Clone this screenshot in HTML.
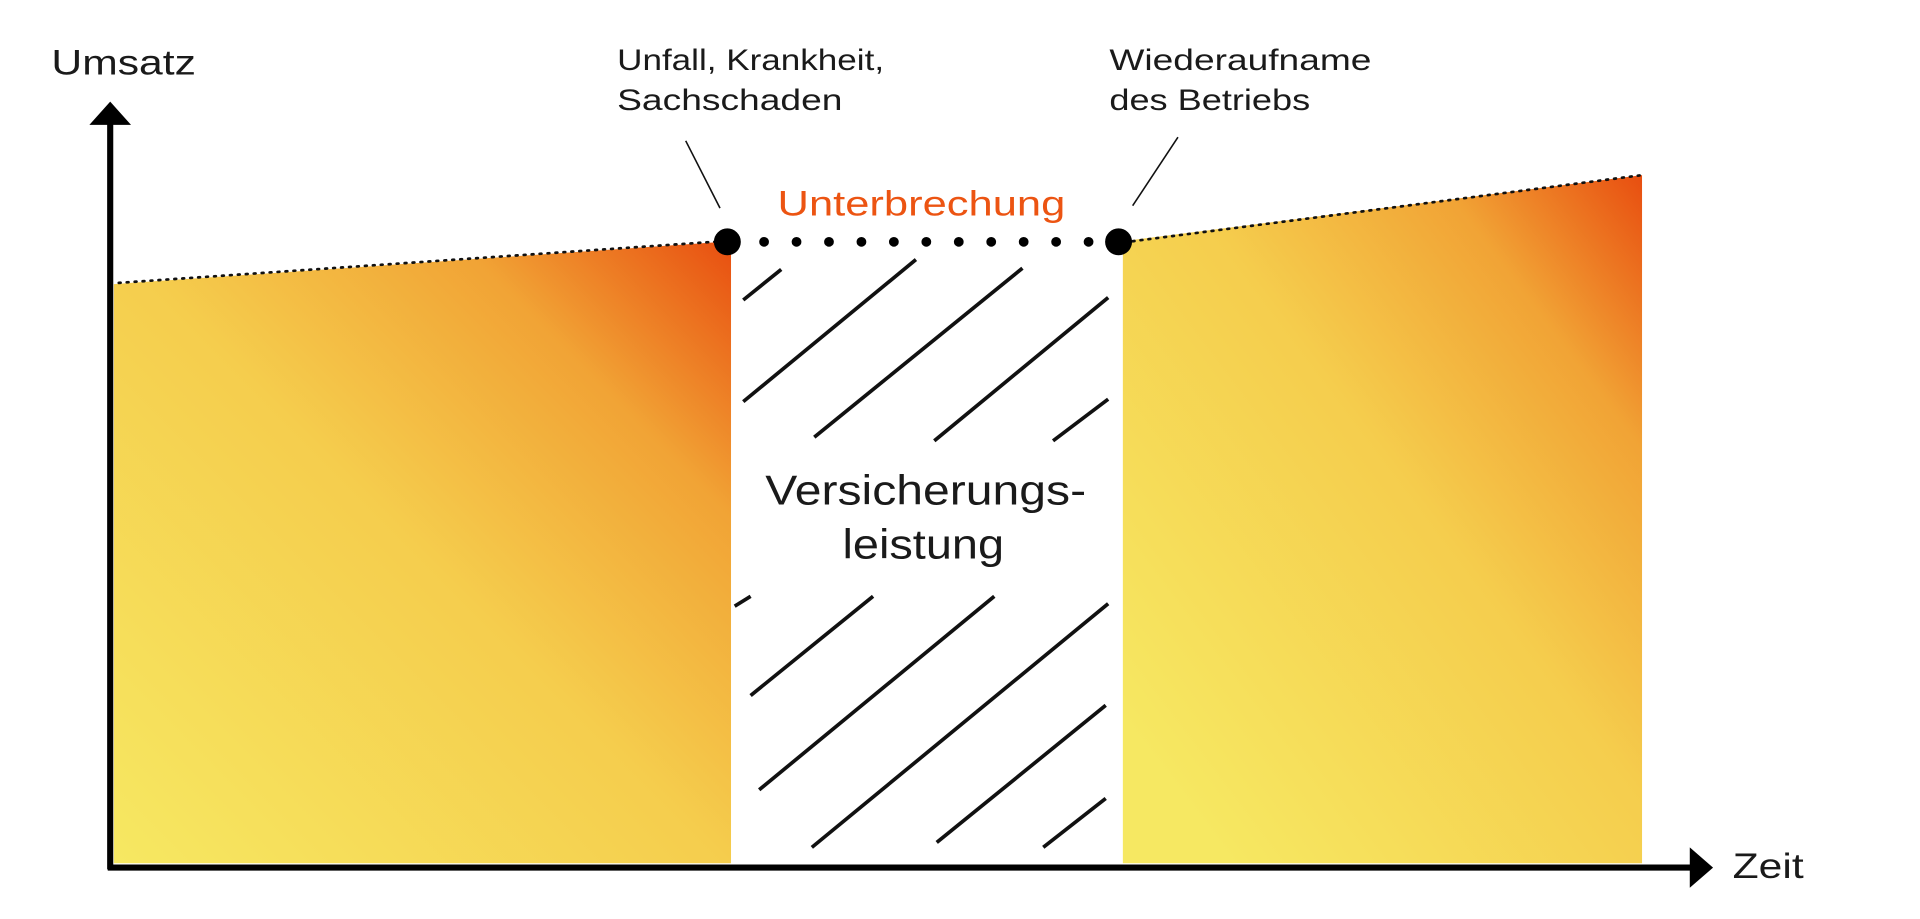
<!DOCTYPE html>
<html><head><meta charset="utf-8"><style>
html,body{margin:0;padding:0;background:#fff;overflow:hidden}
svg{display:block}
text{font-family:"Liberation Sans",sans-serif;fill:#1a1a1a}
</style></head><body>
<svg width="1920" height="919" viewBox="0 0 1568 750.5" preserveAspectRatio="none" xmlns="http://www.w3.org/2000/svg">
<defs>
<linearGradient id="g1" x1="0" y1="1" x2="1" y2="0" gradientUnits="objectBoundingBox">
<stop offset="0" stop-color="#f6e862"/>
<stop offset="0.5" stop-color="#f5cd4d"/>
<stop offset="0.78" stop-color="#f1a335"/>
<stop offset="1" stop-color="#e84e10"/>
</linearGradient>
<linearGradient id="g2" x1="0.1" y1="0.9" x2="1" y2="0" gradientUnits="objectBoundingBox">
<stop offset="0" stop-color="#f6e862"/>
<stop offset="0.5" stop-color="#f5cd4d"/>
<stop offset="0.78" stop-color="#f1a335"/>
<stop offset="1" stop-color="#e84e10"/>
</linearGradient>
</defs>
<polygon points="93,232 597,197 597,705 93,705" fill="url(#g1)"/>
<polygon points="917,197 1341,143 1341,705 917,705" fill="url(#g2)"/>
<line x1="97" y1="231" x2="590" y2="197" stroke="#111" stroke-width="2.2" stroke-dasharray="1.5 5" stroke-linecap="round"/>
<line x1="925" y1="197" x2="1341" y2="143" stroke="#111" stroke-width="2.2" stroke-dasharray="1.5 5" stroke-linecap="round"/>
<g stroke="#111" stroke-width="3">
<line x1="607" y1="245" x2="638" y2="220"/>
<line x1="607" y1="328" x2="748" y2="212"/>
<line x1="665" y1="357" x2="835" y2="219"/>
<line x1="763" y1="360" x2="905" y2="243"/>
<line x1="860" y1="360" x2="905" y2="326"/>
<line x1="600" y1="495" x2="613" y2="487"/>
<line x1="613" y1="568" x2="713" y2="487"/>
<line x1="620" y1="645" x2="812" y2="487"/>
<line x1="663" y1="692" x2="905" y2="493"/>
<line x1="765" y1="688" x2="903" y2="576"/>
<line x1="852" y1="692" x2="903" y2="652"/>
</g>
<g fill="#000">
<circle cx="594" cy="197.5" r="11"/>
<circle cx="913.5" cy="197.5" r="11"/>
<circle cx="624" cy="197.5" r="4"/><circle cx="650.5" cy="197.5" r="4"/><circle cx="677" cy="197.5" r="4"/><circle cx="703.5" cy="197.5" r="4"/><circle cx="730" cy="197.5" r="4"/><circle cx="756.5" cy="197.5" r="4"/><circle cx="783" cy="197.5" r="4"/><circle cx="809.5" cy="197.5" r="4"/><circle cx="836" cy="197.5" r="4"/><circle cx="862.5" cy="197.5" r="4"/><circle cx="889" cy="197.5" r="4"/>
</g>
<line x1="90" y1="100" x2="90" y2="710" stroke="#000" stroke-width="5"/>
<polygon points="90,83 73,102 107,102" fill="#000"/>
<line x1="88" y1="708.5" x2="1385" y2="708.5" stroke="#000" stroke-width="5"/>
<polygon points="1399,708.5 1380,692 1380,725" fill="#000"/>
<line x1="560" y1="115" x2="588" y2="170" stroke="#111" stroke-width="1.3"/>
<line x1="962" y1="112" x2="925" y2="168" stroke="#111" stroke-width="1.3"/>
<text x="42" y="61" font-size="29" textLength="118" lengthAdjust="spacingAndGlyphs">Umsatz</text>
<text x="504" y="57" font-size="24" textLength="218" lengthAdjust="spacingAndGlyphs">Unfall, Krankheit,</text>
<text x="504" y="90" font-size="24" textLength="184" lengthAdjust="spacingAndGlyphs">Sachschaden</text>
<text x="906" y="57" font-size="24" textLength="214" lengthAdjust="spacingAndGlyphs">Wiederaufname</text>
<text x="906" y="90" font-size="24" textLength="164" lengthAdjust="spacingAndGlyphs">des Betriebs</text>
<text x="635" y="176" font-size="29" style="fill:#ec5412" textLength="235" lengthAdjust="spacingAndGlyphs">Unterbrechung</text>
<text x="625" y="412" font-size="34" textLength="262" lengthAdjust="spacingAndGlyphs">Versicherungs-</text>
<text x="688" y="456" font-size="34" textLength="132" lengthAdjust="spacingAndGlyphs">leistung</text>
<text x="1415" y="717" font-size="29" textLength="58" lengthAdjust="spacingAndGlyphs">Zeit</text>
</svg>
</body></html>
